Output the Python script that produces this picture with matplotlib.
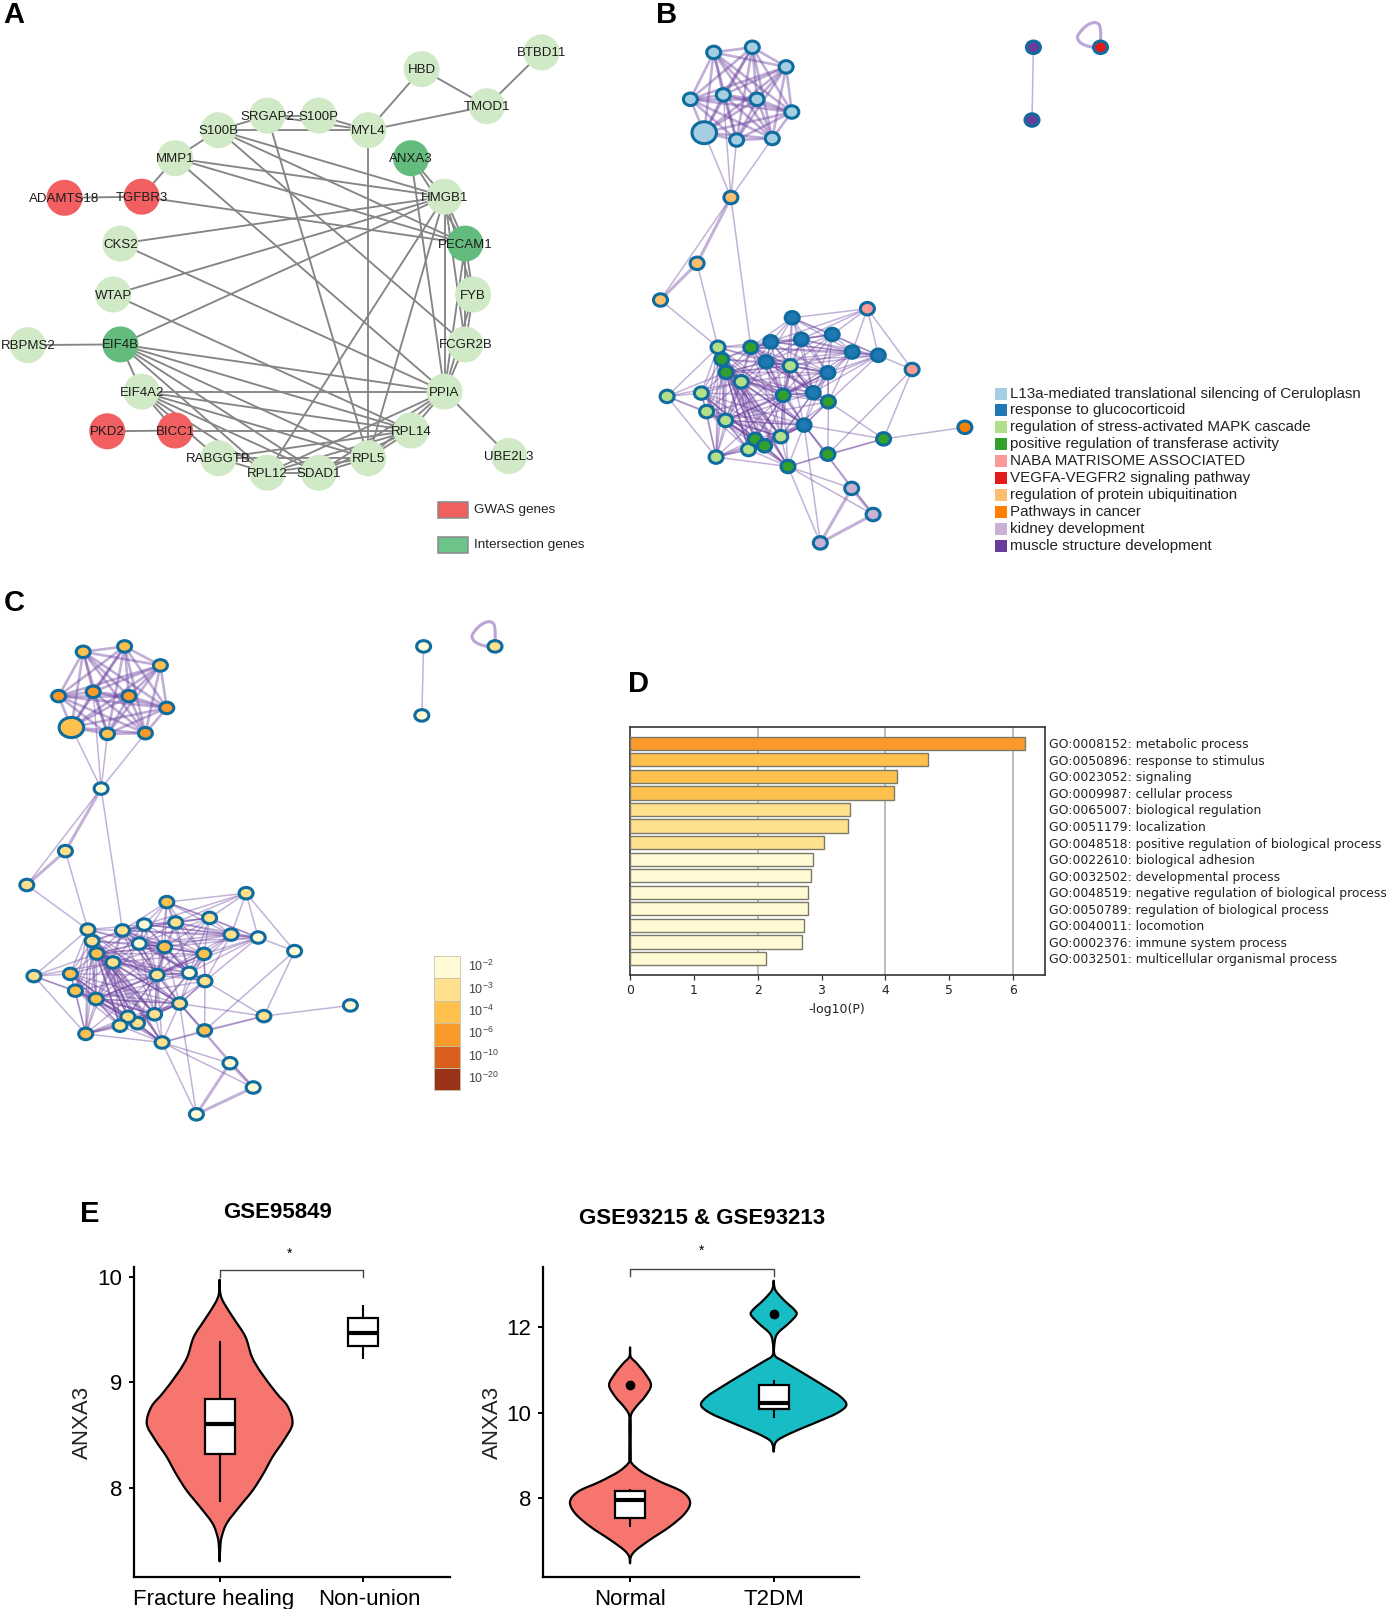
import itertools
import numpy as np
import matplotlib
matplotlib.use("Agg")
import matplotlib.pyplot as plt
from matplotlib.collections import LineCollection
from matplotlib.patches import Circle, Ellipse, Rectangle, PathPatch
from matplotlib.path import Path
from matplotlib.transforms import ScaledTranslation

W, H = 1386, 1609
plt.rcParams['font.family'] = ['Liberation Sans', 'DejaVu Sans']
plt.rcParams['mathtext.default'] = 'regular'

# ---------- Panel A: gene network ----------
genes = ["BTBD11","HBD","TMOD1","SRGAP2","S100P","MYL4","S100B","MMP1","ANXA3","ADAMTS18","TGFBR3",
         "HMGB1","CKS2","PECAM1","WTAP","FYB","RBPMS2","EIF4B","FCGR2B","EIF4A2","PPIA","PKD2","BICC1",
         "RPL14","RABGGTB","RPL5","RPL12","SDAD1","UBE2L3"]
gene_x = [541.6,421.6,486.9,267.3,318.8,368.2,218.4,175.1,411.0,64.5,141.6,444.5,120.4,465.3,113.1,473.1,
          27.8,120.4,465.3,141.6,444.5,107.3,175.1,411.0,218.4,368.2,267.3,318.8,509.0]
gene_y = [52.4,69.1,106.2,115.6,115.6,130.2,130.2,158.2,158.2,197.8,196.7,196.7,243.6,243.6,294.5,294.5,
          345.1,344.4,344.4,391.6,391.6,431.3,430.5,430.5,458.2,458.2,472.7,472.7,456.0]
gene_kind = ["n","n","n","n","n","n","n","n","i","g","g","n","n","i","n","n","n","i","n","n","n","g","g",
             "n","n","n","n","n","n"]
gene_edges = """BTBD11-TMOD1 HBD-TMOD1 HBD-MYL4 TMOD1-MYL4 SRGAP2-S100P S100P-MYL4 S100B-SRGAP2 S100B-MYL4 SRGAP2-MYL4
S100B-MMP1 MMP1-TGFBR3 ADAMTS18-TGFBR3 TGFBR3-PECAM1 MMP1-HMGB1 MMP1-PECAM1 MMP1-PPIA S100B-HMGB1 S100B-PECAM1
S100B-FCGR2B SRGAP2-RPL5 MYL4-RPL5 CKS2-HMGB1 CKS2-PPIA WTAP-HMGB1 WTAP-RPL14 EIF4B-HMGB1 RBPMS2-EIF4B ANXA3-HMGB1
ANXA3-PECAM1 ANXA3-PPIA HMGB1-PECAM1 HMGB1-FYB HMGB1-FCGR2B HMGB1-PPIA HMGB1-RPL5 HMGB1-RPL12 PECAM1-FYB
PECAM1-FCGR2B FYB-FCGR2B PECAM1-PPIA FCGR2B-PPIA FYB-PPIA EIF4B-EIF4A2 EIF4B-PPIA EIF4B-RPL14 EIF4B-RPL5 EIF4B-SDAD1
EIF4B-RPL12 EIF4A2-PPIA EIF4A2-RPL14 EIF4A2-RPL5 EIF4A2-SDAD1 EIF4A2-RPL12 EIF4A2-RABGGTB EIF4A2-BICC1 PKD2-BICC1
BICC1-RPL14 PPIA-RPL14 PPIA-RPL5 PPIA-RPL12 PPIA-SDAD1 PPIA-UBE2L3 RPL14-RPL5 RPL14-RPL12 RPL14-SDAD1 RPL14-RABGGTB
RPL5-SDAD1 RPL5-RPL12 RPL5-RABGGTB RPL12-SDAD1 RPL12-RABGGTB""".split()
kind_colors = {"n": "#D0E9C6", "i": "#63BB7E", "g": "#F15F60"}
legend_a = [("GWAS genes", "#F25F5F"), ("Intersection genes", "#6CC48A")]

# ---------- Panels B / C: enrichment network ----------
b_x = [704.2,713.7,752.3,786.1,690.4,723.3,757.0,791.8,736.6,772.3,730.9,697.1,660.5,792.2,801.3,832.2,770.8,
       852.2,878.3,766.1,827.9,813.2,804.1,867.4,912.1,718.0,790.3,741.3,667.1,701.4,706.6,725.6,780.8,748.5,
       716.1,750.8,721.8,726.1,783.2,828.4,755.1,764.6,788.0,827.9,883.6,964.9,851.7,873.1,820.3,1033.4,1032.0,1100.5]
b_y = [132.7,52.4,47.3,66.9,99.3,94.9,99.3,112.0,140.0,138.5,197.5,263.3,300.0,317.8,339.3,334.5,341.8,352.0,
       355.3,361.8,372.7,392.7,425.1,308.7,369.5,347.3,365.8,381.8,396.4,393.1,411.6,420.4,436.7,449.5,457.1,
       347.3,359.3,372.4,395.3,401.8,439.3,445.8,466.5,454.2,438.9,427.3,488.4,514.5,542.9,47.3,120.0,47.3]
c_x = [71.4,83.2,124.6,160.4,58.6,93.2,128.9,166.8,107.5,145.4,101.1,65.4,26.8,166.8,175.7,209.6,144.3,231.1,
       258.2,139.3,203.9,189.3,179.6,246.1,294.6,87.9,164.6,112.9,33.9,70.4,75.4,96.1,154.6,137.5,85.7,122.5,
       92.1,96.8,157.1,205.0,127.9,120.0,162.1,204.6,263.9,350.4,230.0,253.2,196.4,423.6,421.8,495.0]
c_y = [727.5,651.8,646.4,665.4,696.1,691.8,696.1,707.9,733.9,733.2,788.6,851.1,885.0,902.1,922.5,917.9,924.6,
       934.6,937.5,943.6,953.9,972.9,1003.6,893.2,951.1,929.6,947.1,962.5,976.1,973.9,990.7,999.0,1014.3,1023.2,
       1033.9,930.4,941.1,953.6,975.0,981.1,1016.8,1025.7,1042.5,1030.4,1016.1,1005.4,1063.2,1087.5,1114.3,646.4,715.4,646.4]
big_node = 0
b_group = [0]*10 + [6]*3 + [1]*10 + [4]*2 + [2]*10 + [3]*10 + [7] + [8]*3 + [9]*2 + [5]
term_names = ["L13a-mediated translational silencing of Ceruloplasn","response to glucocorticoid",
              "regulation of stress-activated MAPK cascade","positive regulation of transferase activity",
              "NABA MATRISOME ASSOCIATED","VEGFA-VEGFR2 signaling pathway","regulation of protein ubiquitination",
              "Pathways in cancer","kidney development","muscle structure development"]
term_colors = ["#A6CEE3","#1F78B4","#B2DF8A","#33A02C","#FB9A99","#E31A1C","#FDBF6F","#FF7F00","#CAB2D6","#6A3D9A"]
c_level = [2,2,2,2,3,3,3,3,2,3, 0,1,1, 2,1,1,0,1,0,0,2,0,1, 1,0, 1,2,1,1,2,2,2,1,1,2,
           1,1,2,1,1,1,1,1,2,1, 0, 0,0,0, 0,0,1]
p_labels = ["-2","-3","-4","-6","-10","-20"]
p_colors = ["#FFF9D4","#FFE08D","#FFC14E","#F99A2A","#D95F1F","#993418"]
top_clique = list(range(10))
net_cliques = [[25,36,37,27,29,30,31,34,33,40,41,32,42,38,22],
               [13,14,15,16,17,18,19,20,21,26,38,35],
               [27,38,26,19,20,21,22,32,37,31,35,39],
               [25,36,37,27,19,35,16,26]]
net_edges = [(0,10),(8,10),(9,10),(5,10),(10,11),(10,12),(11,12),(10,35),(11,25),(12,25),
             (23,13),(23,15),(23,14),(23,16),(23,17),(23,18),(23,24),(18,24),(24,44),(24,43),
             (44,39),(44,22),(44,45),(44,43),(44,42),(43,39),(43,22),(43,42),(39,20),(39,21),(39,22),
             (22,46),(22,47),(42,46),(42,47),(42,48),(22,48),(46,47),(46,48),(47,48),
             (28,25),(28,29),(28,30),(28,34),(28,27),(28,31),(28,37),(49,50),(34,42),(33,42),(17,39),(18,39),(18,20)]
thick_edges = [(47,48),(46,48),(46,47),(10,11),(11,12)]

# ---------- Panel D ----------
go_terms = ["GO:0008152: metabolic process","GO:0050896: response to stimulus","GO:0023052: signaling",
            "GO:0009987: cellular process","GO:0065007: biological regulation","GO:0051179: localization",
            "GO:0048518: positive regulation of biological process","GO:0022610: biological adhesion",
            "GO:0032502: developmental process","GO:0048519: negative regulation of biological process",
            "GO:0050789: regulation of biological process","GO:0040011: locomotion",
            "GO:0002376: immune system process","GO:0032501: multicellular organismal process"]
go_values = [6.19,4.66,4.18,4.14,3.45,3.42,3.04,2.86,2.83,2.79,2.79,2.72,2.70,2.13]
go_level = [3,2,2,2,1,1,1,0,0,0,0,0,0,0]

# ---------- Panel E ----------
fh_y = [9.97,9.84,9.75,9.59,9.43,9.24,9.09,8.90,8.77,8.61,8.46,8.30,8.14,7.98,7.83,7.67,7.54,7.45,7.31]
fh_w = [0,.005,.03,.105,.18,.225,.29,.395,.475,.507,.45,.37,.305,.23,.14,.05,.014,.005,0]
fh_box = dict(lo=7.87, q1=8.32, med=8.61, q3=8.84, hi=9.39)
nu_box = dict(lo=9.22, q1=9.34, med=9.47, q3=9.61, hi=9.73)
no_y = [11.53,11.31,11.16,10.92,10.65,10.38,10.14,9.95,9.68,8.97,8.82,8.62,8.39,8.16,7.92,7.65,7.34,7.03,6.79,6.64,6.48]
no_w = [0,.005,.046,.104,.146,.104,.042,.007,.005,.005,.012,.081,.209,.36,.418,.383,.278,.139,.042,.007,0]
t2_y = [13.09,12.87,12.64,12.41,12.29,12.09,11.86,11.66,11.35,11.20,10.92,10.61,10.38,10.18,9.99,9.75,9.52,9.33,9.09]
t2_w = [0,.012,.07,.144,.158,.104,.028,.007,.007,.07,.209,.36,.464,.506,.44,.278,.116,.019,0]
no_box = dict(lo=7.34, q1=7.55, med=7.95, q3=8.16, hi=8.21, out=10.65)
t2_box = dict(lo=9.87, q1=10.10, med=10.24, q3=10.65, hi=10.77, out=12.30)

# ---------- figure ----------
fig = plt.figure(figsize=(W/100, H/100), dpi=100, facecolor="white")
cv = fig.add_axes([0, 0, 1, 1])
cv.set_xlim(0, W); cv.set_ylim(H, 0); cv.axis("off")

def px_axes(l, t, r, b):
    return fig.add_axes([l/W, 1-b/H, (r-l)/W, (b-t)/H])

for s, x, y in [("A",3,15),("B",656,15),("C",4,603),("D",628,684),("E",80,1214)]:
    cv.text(x, y, s, fontsize=21, fontweight="bold", ha="left", va="center", color="black")

# A
idx = {g: i for i, g in enumerate(genes)}
segs = []
for e in gene_edges:
    a, b = e.split("-")
    segs.append([(gene_x[idx[a]], gene_y[idx[a]]), (gene_x[idx[b]], gene_y[idx[b]])])
cv.add_collection(LineCollection(segs, colors="#858585", linewidths=1.35, zorder=1))
for g, x, y, k in zip(genes, gene_x, gene_y, gene_kind):
    cv.add_patch(Circle((x, y), 18, fc=kind_colors[k], ec="none", zorder=2))
    cv.text(x, y+1, g, fontsize=9.5, ha="center", va="center", color="#1c1c1c", zorder=3)
for (lab, col), y in zip(legend_a, [510, 545]):
    cv.add_patch(Rectangle((437.5, y-8), 30, 16, fc=col, ec="#8a8a8a", lw=1.1))
    cv.text(473.5, y, lab, fontsize=9.7, ha="left", va="center", color="#222222")

# B / C networks
def draw_net(xs, ys, fills, w, h):
    pairs = set()
    for c in net_cliques:
        pairs |= set(itertools.combinations(c, 2))
    pairs |= set(net_edges)
    top = sorted(itertools.combinations(top_clique, 2))
    seg = [[(xs[a], ys[a]), (xs[b], ys[b])] for a, b in sorted(pairs)]
    lw = [2.2 if p in thick_edges else 1.1 for p in sorted(pairs)]
    cv.add_collection(LineCollection(seg, colors=[(0.42,0.25,0.62,0.40)], linewidths=lw, zorder=1))
    seg = [[(xs[a], ys[a]), (xs[b], ys[b])] for a, b in top]
    cv.add_collection(LineCollection(seg, colors=[(0.42,0.25,0.62,0.42)], linewidths=1.9, zorder=1))
    X, Y = xs[-1], ys[-1]
    loop = Path([(X,Y),(X-10,Y+1),(X-24,Y-3),(X-23,Y-11),(X-16,Y-24),(X-4,Y-28),(X-1,Y-22),(X+1,Y-16),(X,Y-8),(X,Y)],
                [Path.MOVETO]+[Path.CURVE4]*9)
    cv.add_patch(PathPatch(loop, fc="none", ec="#B9A6D6", lw=2.2, zorder=1))
    for i, (x, y, f) in enumerate(zip(xs, ys, fills)):
        k = 1.75 if i == big_node else 1
        cv.add_patch(Ellipse((x, y), w*k, h*k, fc=f, ec="#0F6C9E", lw=2.2, zorder=2))

draw_net(b_x, b_y, [term_colors[g] for g in b_group], 14.0, 12.5)
draw_net(c_x, c_y, [p_colors[l] for l in c_level], 14.0, 11.5)

for i, (name, col) in enumerate(zip(term_names, term_colors)):
    y = 393.5 + 16.9*i
    cv.add_patch(Rectangle((995, y-6), 12, 12, fc=col, ec="none"))
    cv.text(1010, y, name, fontsize=10.9, ha="left", va="center", color="#222222")

for i, (lab, col) in enumerate(zip(p_labels, p_colors)):
    y = 956 + 22.4*i
    cv.add_patch(Rectangle((434, y), 26, 22.4, fc=col, ec="#C8C4A8", lw=0.6))
    cv.text(468, y+10.5, "10$^{%s}$" % lab, fontsize=9, ha="left", va="center", color="#444444")

# D
ax = px_axes(629.8, 726.7, 1044.6, 975)
ax.barh(range(len(go_values)), go_values, height=0.8, color=[p_colors[l] for l in go_level],
        edgecolor="#7a7a6a", linewidth=1.0, zorder=3)
ax.set_xlim(0, 6.49); ax.set_ylim(14, -1)
ax.set_xticks(range(7))
for v in [2, 4, 6]:
    ax.axvline(v, color="#B0B0B0", lw=1.2, zorder=1)
ax.yaxis.tick_right()
ax.set_yticks(range(len(go_terms)))
ax.set_yticklabels(go_terms, family="DejaVu Sans", fontsize=8.88, color="#222222")
ax.tick_params(axis="y", length=0, pad=3.5)
ax.tick_params(axis="x", length=3.5, width=0.9, labelsize=8.9, pad=3, color="#333333", labelcolor="#222222")
for t in ax.get_xticklabels():
    t.set_family("DejaVu Sans")
ax.set_xlabel("-log10(P)", family="DejaVu Sans", fontsize=9, labelpad=4, color="#222222")
for s in ax.spines.values():
    s.set_linewidth(1.2); s.set_color("#333333")

# E
def spline(pts):
    pts = np.asarray(pts, float)
    ext = np.vstack([pts[0], pts, pts[-1]])
    v, c = [], []
    for i in range(1, len(ext)-2):
        p0, p1, p2, p3 = ext[i-1], ext[i], ext[i+1], ext[i+2]
        v += [p1 + (p2-p0)/6, p2 - (p3-p1)/6, p2]
        c += [Path.CURVE4]*3
    return v, c

def violin(ax, pos, ys, ws, color):
    ys, ws = np.asarray(ys), np.asarray(ws)
    right = np.column_stack([pos+ws, ys])
    left = np.column_stack([pos-ws, ys])[::-1]
    v1, c1 = spline(right); v2, c2 = spline(left)
    verts = [right[0]] + v1 + v2 + [right[0]]
    codes = [Path.MOVETO] + c1 + c2 + [Path.CLOSEPOLY]
    ax.add_patch(PathPatch(Path(verts, codes), fc=color, ec="black", lw=1.6, zorder=2, joinstyle="round"))

def box(ax, pos, b, hw=0.104):
    ax.plot([pos, pos], [b["lo"], b["q1"]], color="black", lw=1.5, zorder=3, solid_capstyle="butt")
    ax.plot([pos, pos], [b["q3"], b["hi"]], color="black", lw=1.5, zorder=3, solid_capstyle="butt")
    ax.add_patch(Rectangle((pos-hw, b["q1"]), 2*hw, b["q3"]-b["q1"], fc="white", ec="black", lw=1.6, zorder=4))
    ax.plot([pos-hw, pos+hw], [b["med"]]*2, color="black", lw=3.0, zorder=5, solid_capstyle="butt")
    if "out" in b:
        ax.plot([pos], [b["out"]], "o", color="black", ms=6, zorder=5)

def style(ax, labels, yticks, top, bot, shifts=(0, 0)):
    ax.set_xticks([1, 2]); ax.set_xticklabels(labels, fontsize=16)
    ax.set_yticks(yticks); ax.set_yticklabels([str(t) for t in yticks], fontsize=16)
    ax.set_ylim(bot, top)
    ax.tick_params(length=3.5, width=1.4, pad=5)
    ax.spines["top"].set_visible(False); ax.spines["right"].set_visible(False)
    ax.spines["left"].set_linewidth(1.6); ax.spines["bottom"].set_linewidth(1.6)
    ax.patch.set_alpha(0)
    for t, s in zip(ax.get_xticklabels(), shifts):
        t.set_transform(t.get_transform() + ScaledTranslation(s/100, 0, fig.dpi_scale_trans))

def bracket(ax, y0, y1):
    ax.plot([1, 1, 2, 2], [y0, y1, y1, y0], color="#444444", lw=1.0, clip_on=False, zorder=6)

SALMON, TEAL = "#F6756E", "#18BCC4"
a1 = px_axes(134, 1267, 449.5, 1576.7)
a1.set_xlim(0.404, 2.6)
violin(a1, 1, fh_y, fh_w, SALMON)
box(a1, 1, fh_box); box(a1, 2, nu_box)
style(a1, ["Fracture healing", "Non-union"], [8, 9, 10], 10.09, 7.165, shifts=(-6, 6))
bracket(a1, 10.0, 10.06)

a2 = px_axes(543, 1267, 859, 1576.7)
a2.set_xlim(0.394, 2.594)
violin(a2, 1, no_y, no_w, SALMON)
violin(a2, 2, t2_y, t2_w, TEAL)
box(a2, 1, no_box); box(a2, 2, t2_box)
style(a2, ["Normal", "T2DM"], [8, 10, 12], 13.41, 6.166)
bracket(a2, 13.21, 13.36)

cv.text(82.5, 1422.7, "ANXA3", fontsize=16, rotation=90, ha="center", va="center", color="#222222")
cv.text(492, 1422.7, "ANXA3", fontsize=16, rotation=90, ha="center", va="center", color="#222222")
cv.text(277.6, 1213, "GSE95849", fontsize=16, fontweight="bold", ha="center", va="center")
cv.text(702, 1218, "GSE93215 & GSE93213", fontsize=16, fontweight="bold", ha="center", va="center")
cv.text(290, 1254, "*", fontsize=10, ha="center", va="center")
cv.text(702, 1251, "*", fontsize=10, ha="center", va="center")

fig.savefig("out.png", dpi=100, facecolor="white")
